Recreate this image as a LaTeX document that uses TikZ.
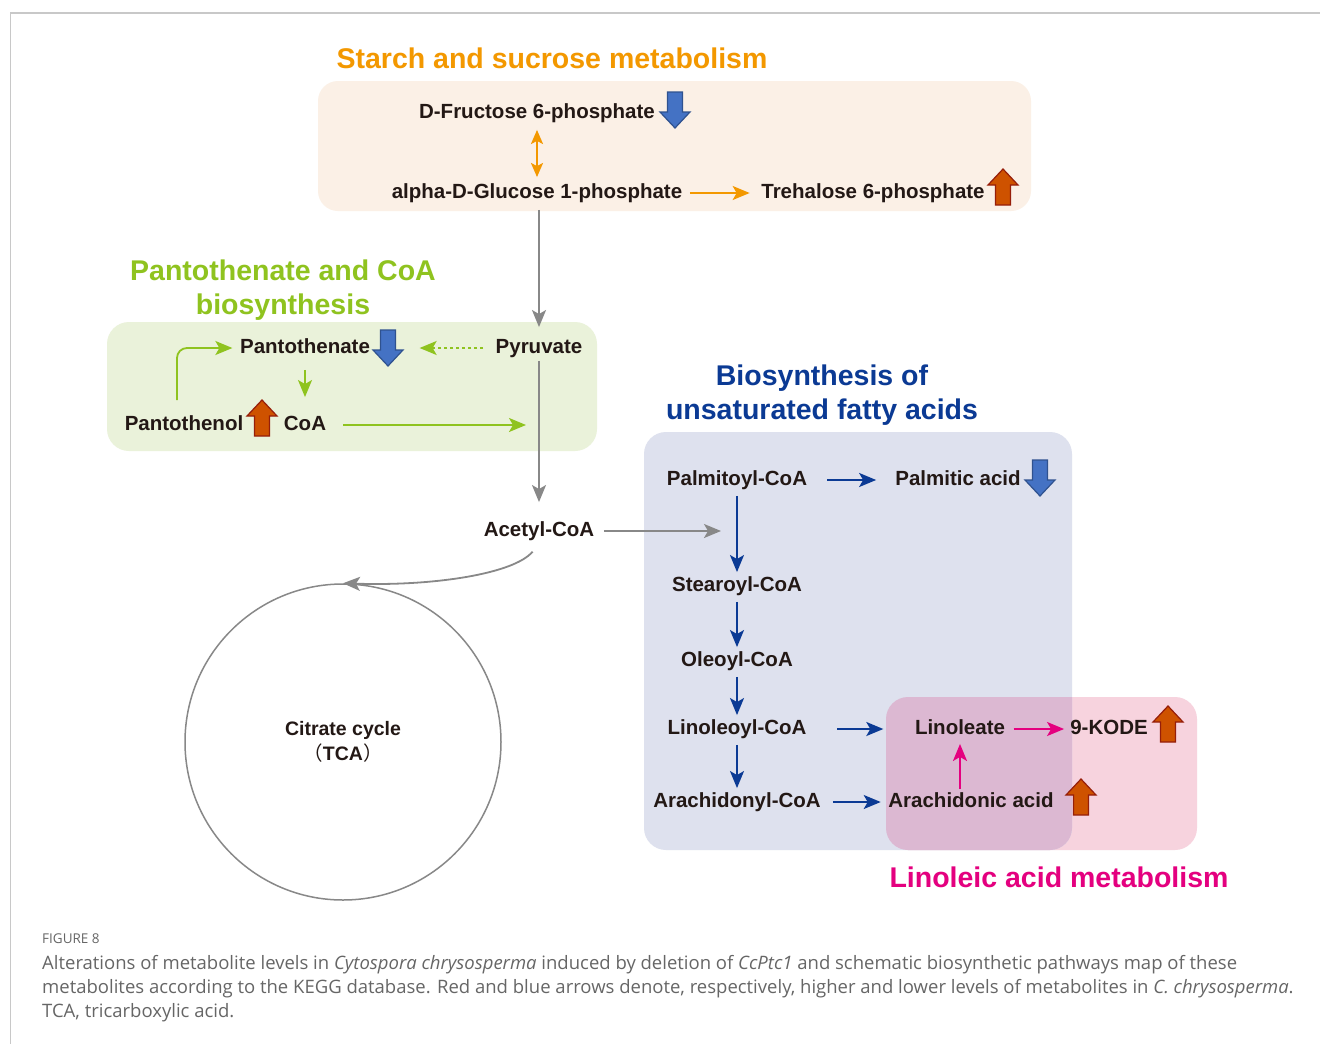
\documentclass[tikz,border=0pt]{standalone}
\usepackage{fontspec}
\setmainfont{Liberation Sans}
\newfontfamily\capfont{Open Sans}
\newfontfamily\cjk{Noto Sans CJK SC}
\usetikzlibrary{positioning,arrows.meta}

\definecolor{txt}{HTML}{231815}
\definecolor{starch}{HTML}{F39800}
\definecolor{panto}{HTML}{8FC31F}
\definecolor{ufa}{HTML}{0B3A94}
\definecolor{linol}{HTML}{E4007F}
\definecolor{flow}{HTML}{888888}
\definecolor{starchbg}{HTML}{FBF0E6}
\definecolor{pantobg}{HTML}{EAF2DA}
\definecolor{ufabg}{HTML}{DEE1EE}
\definecolor{linobg}{HTML}{F7D3DE}
\definecolor{overbg}{HTML}{DCB8D2}
\definecolor{lowc}{HTML}{4472C4}
\definecolor{lowd}{HTML}{2F528F}
\definecolor{highc}{HTML}{CE5200}
\definecolor{highd}{HTML}{961E0A}
\definecolor{framec}{HTML}{C8C8C8}
\definecolor{capc}{HTML}{666666}

\tikzset{
  met/.style={font=\fontsize{20.5}{24}\selectfont\bfseries, text=txt,
    inner sep=3pt, text height=15pt, text depth=4.5pt},
  ttl/.style={font=\fontsize{28.5}{34}\selectfont\bfseries, align=center},
  headarr/.style={-{Stealth[length=17pt,width=14pt,inset=4pt]}},
  flowarr/.style={headarr, draw=flow, line width=1.8pt},
  starcharr/.style={draw=starch, line width=1.8pt},
  pantoarr/.style={headarr, draw=panto, line width=1.8pt},
  ufaarr/.style={headarr, draw=ufa, line width=2pt},
  linarr/.style={headarr, draw=linol, line width=2pt},
  downind/.pic={
    \filldraw[fill=lowc, draw=lowd, line width=1.2pt]
      (-7.5,-18) -- (7.5,-18) -- (7.5,2) -- (15,2) -- (0,18) -- (-15,2) -- (-7.5,2) -- cycle;
  },
  upind/.pic={
    \filldraw[fill=highc, draw=highd, line width=1.2pt]
      (-7.5,18) -- (7.5,18) -- (7.5,-2) -- (15,-2) -- (0,-18) -- (-15,-2) -- (-7.5,-2) -- cycle;
  }
}

\begin{document}
\begin{tikzpicture}[x=1pt,y=-1pt,on grid]
    \useasboundingbox (0,0) rectangle (1320,1044);
    \fill[white] (0,0) rectangle (1320,1044);
    \draw[framec, line width=1.5pt] (10,13) -- (1320,13);
    \draw[framec, line width=1pt] (10,13) -- (10,1044);

    % pathway boxes
    \fill[starchbg, rounded corners=20pt] (318,81) rectangle (1031,211);
    \fill[pantobg, rounded corners=22pt] (107,322) rectangle (597,451);
    \fill[linobg, rounded corners=22pt] (886,697) rectangle (1197,850);
    \fill[ufabg, rounded corners=22pt] (644,432) rectangle (1072,850);
    \begin{scope}
        \clip[rounded corners=22pt] (886,697) rectangle (1197,850);
        \fill[overbg, rounded corners=22pt] (644,432) rectangle (1072,850);
    \end{scope}

    % pathway titles
    \node[ttl, text=starch] (tstarch) at (552,58) {Starch and sucrose metabolism};
    \node[ttl, text=panto] (tpanto) at (283,290) {Pantothenate and CoA\\biosynthesis};
    \node[ttl, text=ufa] (tufa) at (822,395) {Biosynthesis of\\unsaturated fatty acids};
    \node[ttl, text=linol] (tlinol) at (1059,877) {Linoleic acid metabolism};

    % starch and sucrose
    \node[met] (fru) at (537,113) {D-Fructose 6-phosphate};
    \node[met] (glu) [below=80pt of fru] {alpha-D-Glucose 1-phosphate};
    \node[met] (tre) [right=336pt of glu] {Trehalose 6-phosphate};

    % pantothenate and CoA
    \node[met] (pyr) at (539,348) {Pyruvate};
    \node[met] (pan) at (305,348) {Pantothenate};
    \node[met] (coa) [below=77pt of pan] {CoA};
    \node[met] (ptol) [left=121pt of coa] {Pantothenol};
    \node[met] (acetyl) [below=183pt of pyr] {Acetyl-CoA};
    \coordinate (fa) at (721,529);

    % citrate cycle
    \node[circle, draw=flow, line width=1.5pt, minimum size=316pt, align=center,
          font=\fontsize{19.5}{25}\selectfont\bfseries, text=txt] (tca) at (343,742)
        {Citrate cycle\\{\cjk\mdseries （}TCA{\cjk\mdseries ）}};

    % unsaturated fatty acids
    \node[met] (palm) at (737,480) {Palmitoyl-CoA};
    \node[met] (plma) [right=221pt of palm] {Palmitic acid};
    \node[met] (stea) [below=106pt of palm] {Stearoyl-CoA};
    \node[met] (olea) [below=75pt of stea] {Oleoyl-CoA};
    \node[met] (lino) [below=68pt of olea] {Linoleoyl-CoA};
    \node[met] (arac) [below=73pt of lino] {Arachidonyl-CoA};

    % linoleic acid
    \node[met] (lnt) [right=223pt of lino] {Linoleate};
    \node[met] (kode) [right=149pt of lnt] {9-KODE};
    \node[met] (ara) [right=234pt of arac] {Arachidonic acid};

    % higher / lower levels
    \pic at (675,110) {downind};
    \pic at (1003,187) {upind};
    \pic at (388,348) {downind};
    \pic at (262,418) {upind};
    \pic at (1040,478) {downind};
    \pic at (1168,724) {upind};
    \pic at (1081,797) {upind};

    % connectors
    \draw[starcharr, {Stealth[length=14pt,width=12pt,inset=3pt]}-{Stealth[length=14pt,width=12pt,inset=3pt]},
          shorten <=4pt, shorten >=3pt] (fru.south) -- (glu.north);
    \draw[starcharr, headarr, shorten <=4.5pt, shorten >=8.5pt] (glu.east) -- (tre.west);
    \draw[flowarr, shorten <=4pt, shorten >=8pt] (glu.south -| pyr.north) -- (pyr.north);
    \draw[flowarr, shorten >=16pt] (pyr.south) -- (pyr.south |- acetyl.north);
    \draw[pantoarr, dash pattern=on 3pt off 3pt, shorten <=9.5pt, shorten >=46.5pt] (pyr.west) -- (pan.east);
    \draw[pantoarr, rounded corners=10pt, shorten <=12pt, shorten >=4.5pt]
        ([xshift=-7pt]ptol.north) |- (pan.west);
    \draw[pantoarr, shorten <=9pt, shorten >=15pt] (pan.south) -- (coa.north);
    \draw[pantoarr, shorten <=14pt, shorten >=13pt] (coa.east) -- (coa.east -| pyr.south);
    \draw[flowarr, shorten <=6.5pt] (acetyl.east) -- (acetyl.east -| fa);
    \draw[flowarr, shorten <=10pt] (acetyl.south) .. controls +(-25,30) and +(90,3) .. (tca.north);

    \draw[ufaarr, shorten <=17pt, shorten >=16pt] (palm.east) -- (plma.west);
    \foreach \a/\b in {palm/stea, stea/olea, olea/lino, lino/arac}
        \draw[ufaarr, shorten <=3pt, shorten >=1pt] (\a.south) -- (\b.north);
    \draw[ufaarr, shorten <=27.5pt, shorten >=28.5pt] (lino.east) -- (lnt.west);
    \draw[ufaarr, shorten <=9pt, shorten >=4.5pt] (arac.east) -- (ara.west);

    \draw[linarr, shorten >=2pt] (lnt.south |- ara.north) -- (lnt.south);
    \draw[linarr, shorten <=5.5pt, shorten >=3pt] (lnt.east) -- (kode.west);

    % caption
    \node[anchor=west, inner sep=0pt, font=\capfont\fontsize{13.5}{16}\selectfont, text=capc]
        (fig) at (42,939) {FIGURE 8};
    \node[anchor=north west, inner sep=0pt, align=left, text=capc,
          font=\capfont\fontsize{18.5}{24}\selectfont] (cap) at (42,955)
        {Alterations of metabolite levels in \textit{Cytospora chrysosperma} induced by deletion of \textit{CcPtc1} and schematic biosynthetic pathways map of these\\
         metabolites according to the KEGG database. Red and blue arrows denote, respectively, higher and lower levels of metabolites in \textit{C. chrysosperma}.\\
         TCA, tricarboxylic acid.};
\end{tikzpicture}
\end{document}
